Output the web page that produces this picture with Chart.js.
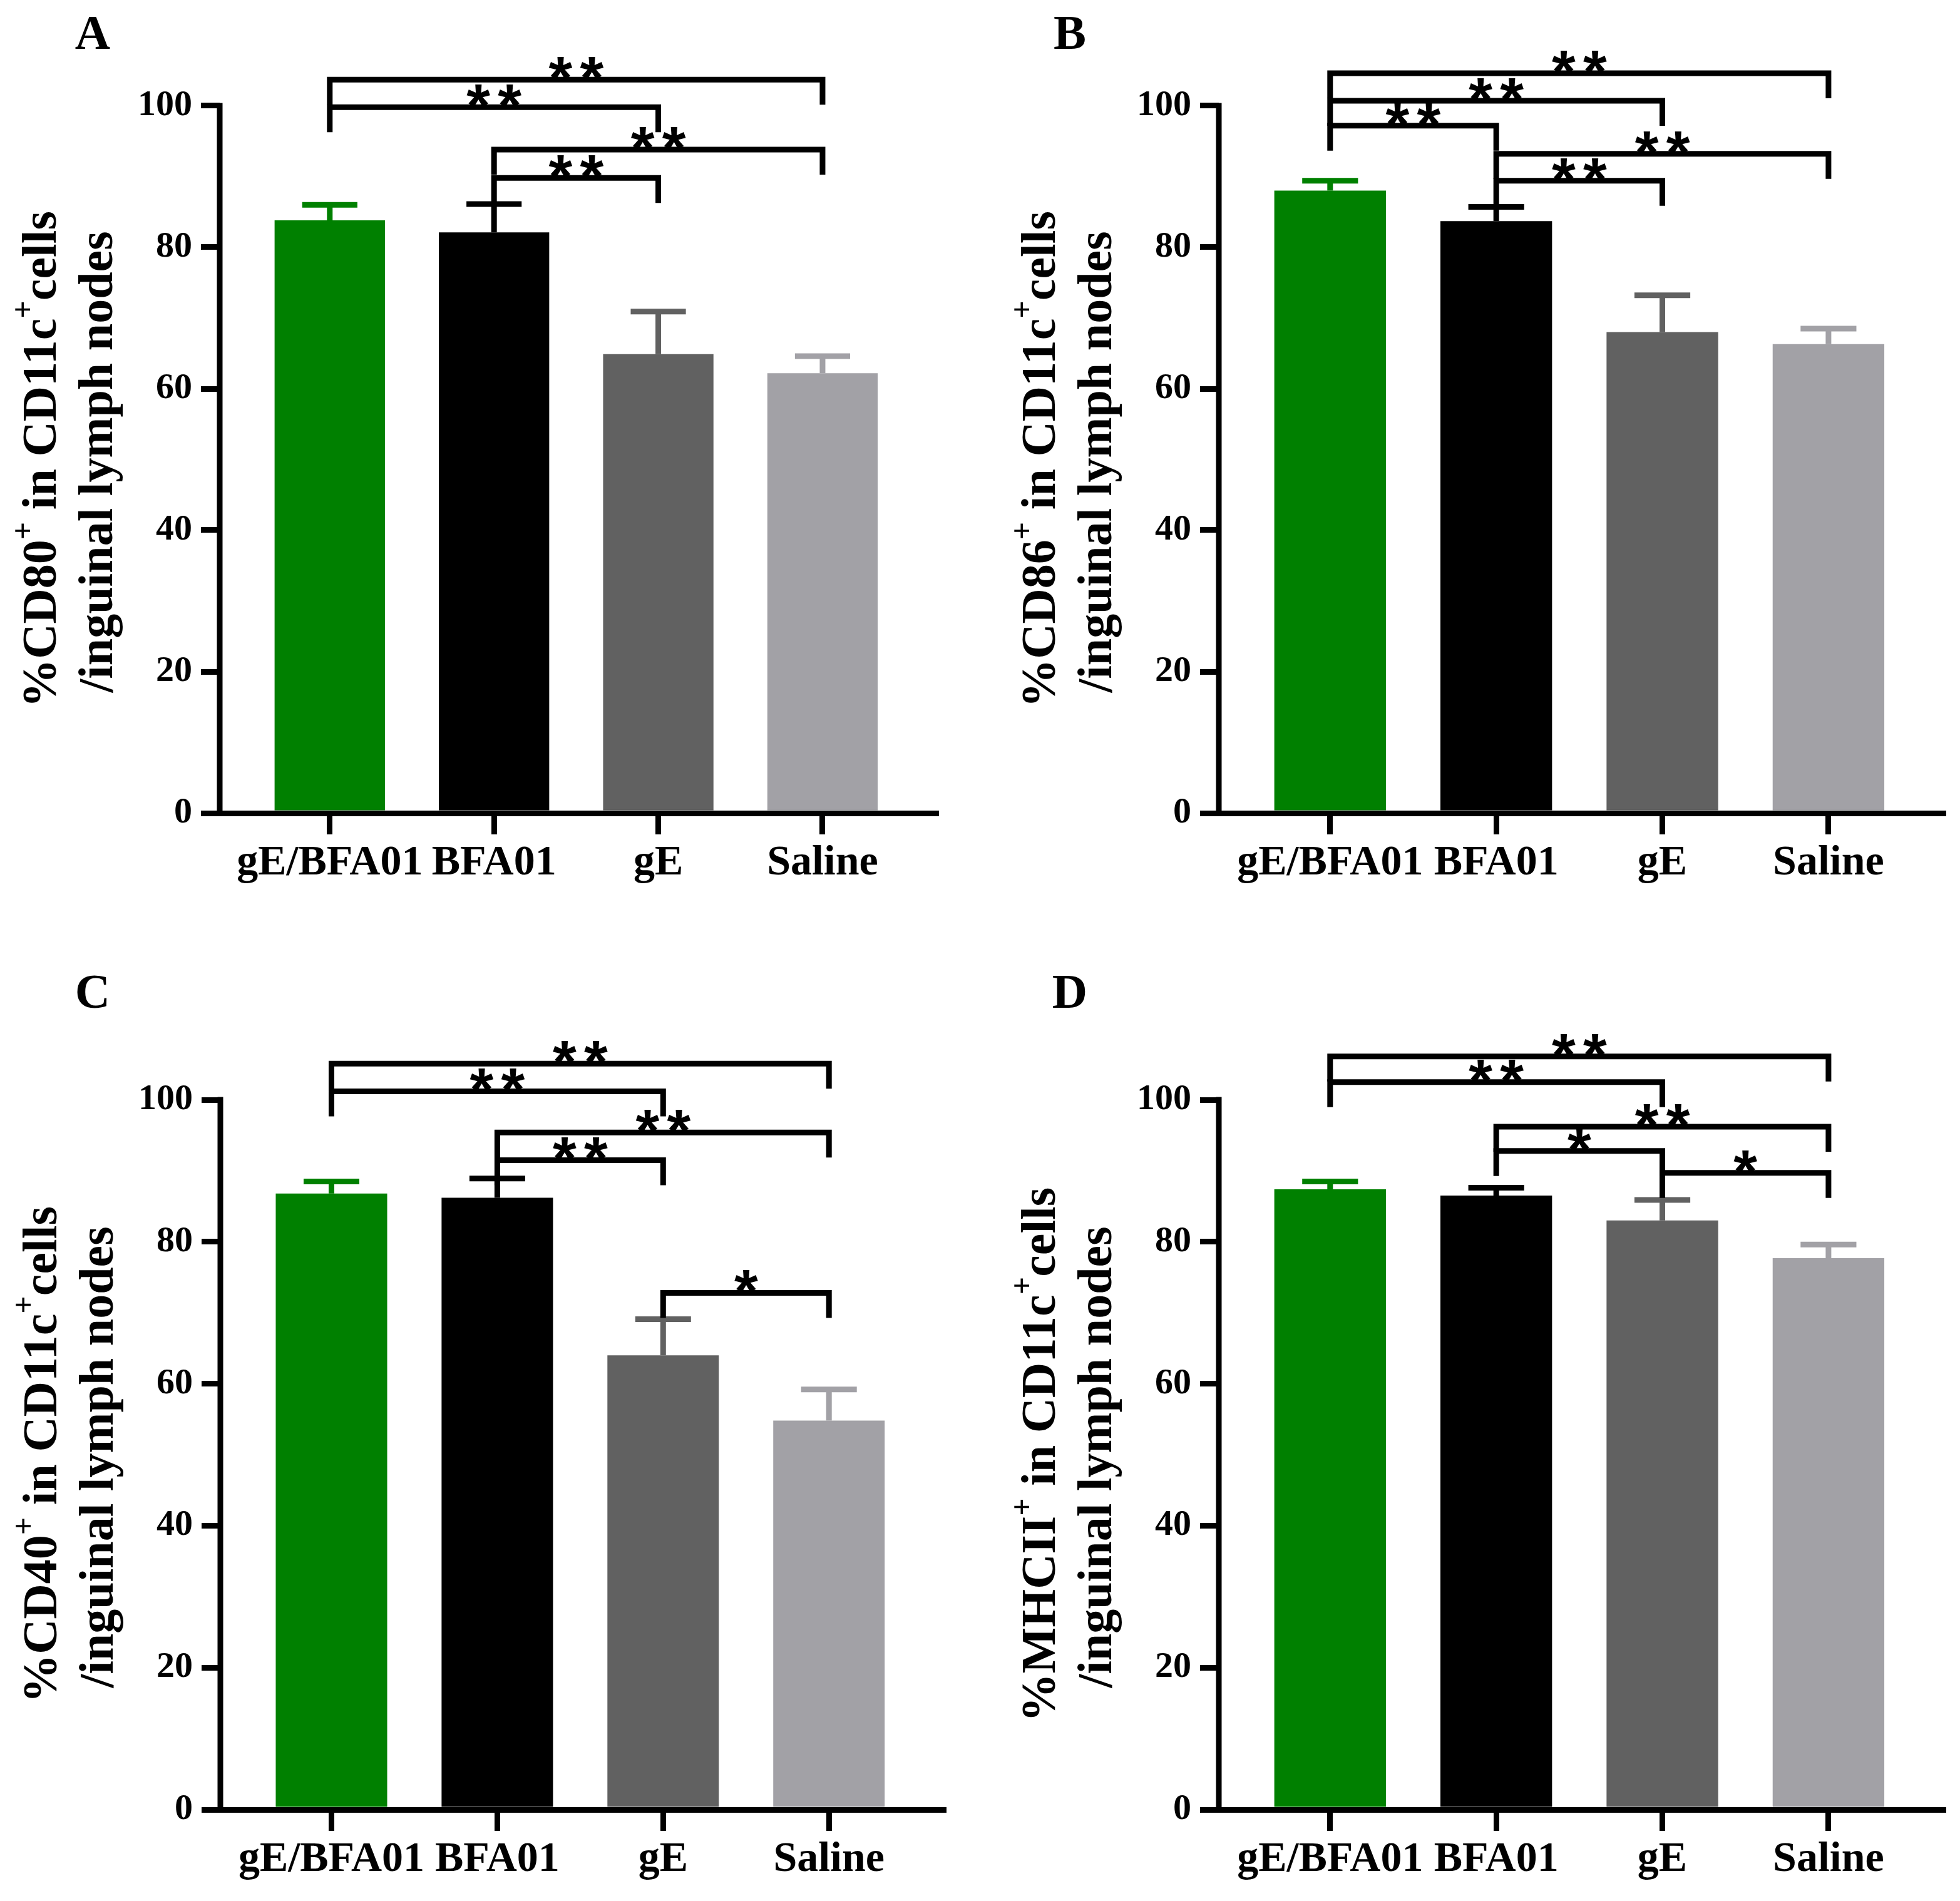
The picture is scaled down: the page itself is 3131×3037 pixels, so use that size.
<!DOCTYPE html>
<html>
<head>
<meta charset="utf-8">
<script src="https://cdn.jsdelivr.net/npm/chart.js@4.4.1/dist/chart.umd.min.js"></script>
<style>
  html, body { margin: 0; padding: 0; background: #fff; }
  #figure { position: relative; width: 3131px; height: 3037px; background: #fff; }
  #figure canvas { position: absolute; }
</style>
</head>
<body>
<div id="figure"></div>
<script>
// Groups and y ticks shared by all four panels
const categories = ['gE/BFA01', 'BFA01', 'gE', 'Saline'];
const yTicks = [0, 20, 40, 60, 80, 100];
const barColors = ['#008000', '#000000', '#616161', '#a2a1a6'];

// A - CD80 (mean, SEM, significance brackets [from, to, height, label])
const cd80Mean = [83.8, 82.1, 64.9, 62.2];
const cd80Sem = [2.2, 4.0, 6.0, 2.4];
const cd80Sig = [[0, 3, 103.7, '**'], [0, 2, 99.8, '**'], [1, 3, 93.8, '**'], [1, 2, 89.8, '**']];

// B - CD86
const cd86Mean = [88.0, 83.7, 68.0, 66.3];
const cd86Sem = [1.4, 2.0, 5.2, 2.2];
const cd86Sig = [[0, 3, 104.6, '**'], [0, 2, 100.7, '**'], [0, 1, 97.2, '**'], [1, 3, 93.2, '**'], [1, 2, 89.4, '**']];

// C - CD40
const cd40Mean = [86.8, 86.2, 64.0, 54.8];
const cd40Sem = [1.7, 2.7, 5.1, 4.4];
const cd40Sig = [[0, 3, 105.1, '**'], [0, 2, 101.2, '**'], [1, 3, 95.4, '**'], [1, 2, 91.5, '**'], [2, 3, 72.8, '*']];

// D - MHCII
const mhcMean = [87.4, 86.5, 83.0, 77.7];
const mhcSem = [1.1, 1.1, 2.9, 1.9];
const mhcSig = [[0, 3, 106.1, '**'], [0, 2, 102.5, '**'], [1, 3, 96.2, '**'], [1, 2, 92.8, '*'], [2, 3, 89.7, '*']];

// Axis titles (runs, '+' is superscript)
const titleCD80 = [['%CD80'], ['+', 'sup'], [' in CD11c'], ['+', 'sup'], ['cells']];
const titleCD86 = [['%CD86'], ['+', 'sup'], [' in CD11c'], ['+', 'sup'], ['cells']];
const titleCD40 = [['%CD40'], ['+', 'sup'], [' in CD11c'], ['+', 'sup'], ['cells']];
const titleMHC = [['%MHCII'], ['+', 'sup'], [' in CD11c'], ['+', 'sup'], ['cells']];
const titleLine2 = [['/inguinal lymph nodes']];

const SERIF = '"Liberation Serif", "Times New Roman", serif';
const Y_MAX = 112;
const X_MIN = -0.67;
const X_MAX = 3.69;
const LINE = 9;
const LEG = 40;

const panels = [
    { letter: 'A', mean: cd80Mean, sem: cd80Sem, sig: cd80Sig, title: titleCD80,
      box: { x: 0, y: 0, w: 1565, h: 1518 }, area: { left: 351, right: 1495, y0: 1299, y100: 169 }, letterAt: [148, 58] },
    { letter: 'B', mean: cd86Mean, sem: cd86Sem, sig: cd86Sig, title: titleCD86,
      box: { x: 1565, y: 0, w: 1566, h: 1518 }, area: { left: 1947, right: 3104, y0: 1299, y100: 169 }, letterAt: [1709, 58] },
    { letter: 'C', mean: cd40Mean, sem: cd40Sem, sig: cd40Sig, title: titleCD40,
      box: { x: 0, y: 1518, w: 1565, h: 1519 }, area: { left: 352, right: 1507, y0: 2891, y100: 1757 }, letterAt: [148, 1590] },
    { letter: 'D', mean: mhcMean, sem: mhcSem, sig: mhcSig, title: titleMHC,
      box: { x: 1565, y: 1518, w: 1566, h: 1519 }, area: { left: 1947, right: 3104, y0: 2891, y100: 1757 }, letterAt: [1709, 1590] }
];

// star size: glyph about 37px tall, 50px pitch
let starFont = null;
let starGap = 0;
function setupStars(ctx) {
    if (starFont) return;
    ctx.save();
    ctx.font = 'bold 100px "Liberation Sans", Arial, sans-serif';
    const m = ctx.measureText('*');
    const h = m.actualBoundingBoxAscent + m.actualBoundingBoxDescent;
    const size = Math.round(100 * 37 / h);
    starFont = 'bold ' + size + 'px "Liberation Sans", Arial, sans-serif';
    ctx.font = starFont;
    starGap = 50 - ctx.measureText('*').width;
    ctx.restore();
}

function drawStars(ctx, label, cx, yLine) {
    setupStars(ctx);
    ctx.save();
    ctx.font = starFont;
    ctx.fillStyle = '#000';
    const m = ctx.measureText(label);
    const w = m.width + starGap * (label.length - 1);
    ctx.letterSpacing = starGap + 'px';
    ctx.textAlign = 'left';
    ctx.textBaseline = 'alphabetic';
    ctx.fillText(label, cx - w / 2, yLine - m.actualBoundingBoxDescent);
    ctx.restore();
}

function drawRotatedRuns(ctx, runs, bx, cy) {
    const main = 'bold 78px ' + SERIF;
    const sup = 'bold 50px ' + SERIF;
    let total = 0;
    const widths = runs.map(r => {
        ctx.font = r[1] ? sup : main;
        const w = ctx.measureText(r[0]).width;
        total += w;
        return w;
    });
    ctx.save();
    ctx.translate(bx, cy);
    ctx.rotate(-Math.PI / 2);
    ctx.fillStyle = '#000';
    ctx.textAlign = 'left';
    ctx.textBaseline = 'alphabetic';
    let x = -total / 2;
    runs.forEach((r, i) => {
        ctx.font = r[1] ? sup : main;
        ctx.fillText(r[0], x, r[1] ? -36 : 0);
        x += widths[i];
    });
    ctx.restore();
}

function errorBarPlugin(p) {
    return {
        id: 'errorBars',
        afterDatasetsDraw(chart) {
            const ctx = chart.ctx;
            const y = chart.scales.y;
            chart.getDatasetMeta(0).data.forEach((bar, i) => {
                const top = y.getPixelForValue(p.mean[i] + p.sem[i]);
                const half = bar.width / 4;
                ctx.save();
                ctx.strokeStyle = barColors[i];
                ctx.lineWidth = LINE;
                ctx.beginPath();
                ctx.moveTo(bar.x, bar.y);
                ctx.lineTo(bar.x, top);
                ctx.moveTo(bar.x - half, top);
                ctx.lineTo(bar.x + half, top);
                ctx.stroke();
                ctx.restore();
            });
        }
    };
}

function bracketPlugin(p) {
    return {
        id: 'sigBrackets',
        afterDatasetsDraw(chart) {
            const ctx = chart.ctx;
            const { x, y } = chart.scales;
            p.sig.forEach(([a, b, h, label]) => {
                const x1 = x.getPixelForValue(a);
                const x2 = x.getPixelForValue(b);
                const yy = y.getPixelForValue(h);
                ctx.save();
                ctx.strokeStyle = '#000';
                ctx.lineWidth = LINE;
                ctx.lineJoin = 'miter';
                ctx.beginPath();
                ctx.moveTo(x1, yy + LEG);
                ctx.lineTo(x1, yy);
                ctx.lineTo(x2, yy);
                ctx.lineTo(x2, yy + LEG);
                ctx.stroke();
                ctx.restore();
                drawStars(ctx, label, (x1 + x2) / 2, yy);
            });
        }
    };
}

function framePlugin(p) {
    return {
        id: 'frame',
        afterDraw(chart) {
            const ctx = chart.ctx;
            const y = chart.scales.y;
            const x0 = chart.chartArea.left;
            const yBottom = y.getPixelForValue(0);
            const yTop = y.getPixelForValue(100);
            ctx.save();
            ctx.strokeStyle = '#000';
            ctx.lineWidth = LINE;
            ctx.beginPath();
            ctx.moveTo(x0, yBottom + LINE / 2);
            ctx.lineTo(x0, yTop - LINE / 2);
            ctx.stroke();
            ctx.restore();

            const cy = (yBottom + yTop) / 2;
            drawRotatedRuns(ctx, p.title, x0 - 262, cy);
            drawRotatedRuns(ctx, titleLine2, x0 - 172, cy + 4);

            ctx.save();
            ctx.fillStyle = '#000';
            ctx.font = 'bold 78px ' + SERIF;
            ctx.textAlign = 'center';
            ctx.textBaseline = 'middle';
            ctx.fillText(p.letter, p.letterAt[0] - p.box.x, p.letterAt[1] - p.box.y);
            ctx.restore();
        }
    };
}

function buildPanel(p) {
    const canvas = document.createElement('canvas');
    canvas.width = p.box.w;
    canvas.height = p.box.h;
    canvas.style.left = p.box.x + 'px';
    canvas.style.top = p.box.y + 'px';
    canvas.style.width = p.box.w + 'px';
    canvas.style.height = p.box.h + 'px';
    document.getElementById('figure').appendChild(canvas);

    const unit = (p.area.y0 - p.area.y100) / 100;
    const padTop = p.area.y100 - (Y_MAX - 100) * unit - p.box.y;

    return new Chart(canvas, {
        type: 'bar',
        data: {
            datasets: [{
                data: p.mean.map((v, i) => ({ x: i, y: v })),
                backgroundColor: barColors,
                borderWidth: 0,
                categoryPercentage: 1,
                barPercentage: 0.672
            }]
        },
        options: {
            responsive: false,
            animation: false,
            devicePixelRatio: 1,
            layout: {
                padding: { left: 0, bottom: 0, top: padTop, right: p.box.x + p.box.w - p.area.right }
            },
            plugins: {
                legend: { display: false },
                tooltip: { enabled: false }
            },
            scales: {
                x: {
                    type: 'linear',
                    min: X_MIN,
                    max: X_MAX,
                    offset: false,
                    z: 1,
                    afterBuildTicks: s => { s.ticks = categories.map((c, i) => ({ value: i })); },
                    afterFit: s => {
                        s.height = p.box.y + p.box.h - p.area.y0;
                        s.paddingLeft = 0;
                        s.paddingRight = 0;
                    },
                    ticks: {
                        callback: v => categories[v],
                        color: '#000',
                        font: { family: SERIF, size: 68, weight: 'bold', lineHeight: 1.2 },
                        padding: 6,
                        maxRotation: 0,
                        autoSkip: false
                    },
                    grid: { offset: false, drawOnChartArea: false, tickLength: 34, lineWidth: LINE, color: '#000' },
                    border: { display: true, width: LINE, color: '#000' }
                },
                y: {
                    min: 0,
                    max: Y_MAX,
                    afterBuildTicks: s => { s.ticks = yTicks.map(v => ({ value: v })); },
                    afterFit: s => {
                        s.width = p.area.left - p.box.x;
                        s.paddingTop = 0;
                        s.paddingBottom = 0;
                    },
                    ticks: {
                        color: '#000',
                        font: { family: SERIF, size: 58, weight: 'bold' },
                        padding: 14
                    },
                    grid: { drawOnChartArea: false, tickLength: 30, lineWidth: LINE, color: '#000' },
                    border: { display: false }
                }
            }
        },
        plugins: [errorBarPlugin(p), bracketPlugin(p), framePlugin(p)]
    });
}

panels.forEach(buildPanel);
</script>
</body>
</html>
